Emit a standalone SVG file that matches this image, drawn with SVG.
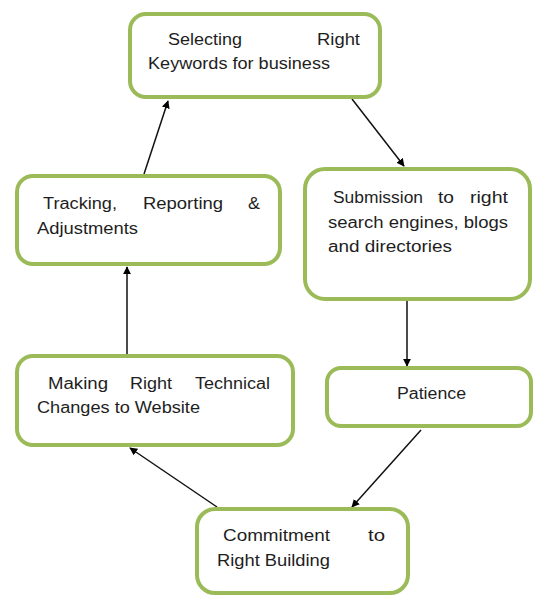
<svg xmlns="http://www.w3.org/2000/svg" width="533" height="595" viewBox="0 0 533 595">
<style>
.box{fill:#fff;stroke:#9BBB59;stroke-width:4}
.t{font-family:"Liberation Sans",Arial,sans-serif;font-size:16px;fill:#1e1e1e}
.c{stroke:#111;stroke-width:1.5;fill:none}
</style>
<defs>
<marker id="ah" viewBox="0 0 10 10" refX="9" refY="5" markerWidth="8" markerHeight="8" markerUnits="userSpaceOnUse" orient="auto">
<path d="M0,0 L10,5 L0,10 z" fill="#000"/>
</marker>
</defs>
<rect width="533" height="595" fill="#fff"/>
<g id="connectors">
<line class="c" x1="144" y1="174" x2="168" y2="101" marker-end="url(#ah)"/>
<line class="c" x1="352" y1="99" x2="404" y2="166" marker-end="url(#ah)"/>
<line class="c" x1="407" y1="301" x2="407" y2="366" marker-end="url(#ah)"/>
<line class="c" x1="421" y1="430" x2="352" y2="507" marker-end="url(#ah)"/>
<line class="c" x1="217" y1="507" x2="130" y2="448" marker-end="url(#ah)"/>
<line class="c" x1="127" y1="354" x2="127" y2="267" marker-end="url(#ah)"/>
</g>
<g id="n1">
<rect class="box" x="130" y="14" width="250" height="83" rx="16"/>
<text class="t" x="168" y="45" textLength="74" lengthAdjust="spacingAndGlyphs">Selecting</text>
<text class="t" x="317" y="45" textLength="43" lengthAdjust="spacingAndGlyphs">Right</text>
<text class="t" x="148" y="69" textLength="182" lengthAdjust="spacingAndGlyphs">Keywords for business</text>
</g>
<g id="n2">
<rect class="box" x="17" y="176" width="263" height="88" rx="16"/>
<text class="t" x="43" y="209" textLength="74" lengthAdjust="spacingAndGlyphs">Tracking,</text>
<text class="t" x="143" y="209" textLength="80" lengthAdjust="spacingAndGlyphs">Reporting</text>
<text class="t" x="248" y="209" textLength="12" lengthAdjust="spacingAndGlyphs">&amp;</text>
<text class="t" x="37" y="234" textLength="101" lengthAdjust="spacingAndGlyphs">Adjustments</text>
</g>
<g id="n3">
<rect class="box" x="305" y="169" width="225" height="130" rx="20"/>
<text class="t" x="333" y="203" textLength="90" lengthAdjust="spacingAndGlyphs">Submission</text>
<text class="t" x="438" y="203" textLength="16" lengthAdjust="spacingAndGlyphs">to</text>
<text class="t" x="470" y="203" textLength="38" lengthAdjust="spacingAndGlyphs">right</text>
<text class="t" x="328" y="228" textLength="180" lengthAdjust="spacingAndGlyphs">search engines, blogs</text>
<text class="t" x="328" y="252" textLength="124" lengthAdjust="spacingAndGlyphs">and directories</text>
</g>
<g id="n4">
<rect class="box" x="17" y="356" width="276" height="89" rx="16"/>
<text class="t" x="48" y="389" textLength="60" lengthAdjust="spacingAndGlyphs">Making</text>
<text class="t" x="130" y="389" textLength="42" lengthAdjust="spacingAndGlyphs">Right</text>
<text class="t" x="195" y="389" textLength="75" lengthAdjust="spacingAndGlyphs">Technical</text>
<text class="t" x="37" y="413" textLength="163" lengthAdjust="spacingAndGlyphs">Changes to Website</text>
</g>
<g id="n5">
<rect class="box" x="197" y="509" width="211" height="84" rx="18"/>
<text class="t" x="223" y="541" textLength="107" lengthAdjust="spacingAndGlyphs">Commitment</text>
<text class="t" x="368" y="541" textLength="17" lengthAdjust="spacingAndGlyphs">to</text>
<text class="t" x="217" y="566" textLength="113" lengthAdjust="spacingAndGlyphs">Right Building</text>
</g>
<g id="n6">
<rect class="box" x="327" y="368" width="204" height="58" rx="14"/>
<text class="t" x="397" y="399" textLength="69" lengthAdjust="spacingAndGlyphs">Patience</text>
</g>
</svg>
